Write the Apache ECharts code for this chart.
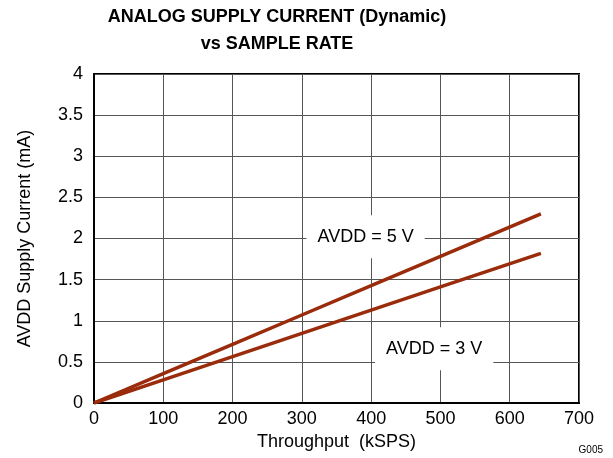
<!DOCTYPE html>
<html>
<head>
<meta charset="utf-8">
<script src="https://cdn.jsdelivr.net/npm/echarts@6/dist/echarts.min.js"></script>
<style>
  html, body { margin: 0; padding: 0; background: #fff; }
  #chart { width: 613px; height: 458px; }
</style>
</head>
<body>
<div id="chart"></div>
<script>
// Throughput (kSPS) sample points
const throughput = [0, 100, 200, 300, 400, 500, 645];
// Analog supply current (mA) at each throughput
const avdd5V = [0, 0.357, 0.713, 1.07, 1.426, 1.783, 2.3];
const avdd3V = [0, 0.282, 0.564, 0.847, 1.129, 1.411, 1.82];
// Curve labels and where they sit (data coordinates)
const labelNames = ['AVDD = 5 V', 'AVDD = 3 V'];
const labelCoords = [[392, 2.02], [491, 0.66]];
const xTicks = { min: 0, max: 700, step: 100 };
const yTicks = { min: 0, max: 4, step: 0.5 };

const FONT = '"Liberation Sans", Arial, sans-serif';
const LINE_COLOR = '#9a2c0b';

function pairs(xs, ys) { return xs.map((x, i) => [x, ys[i]]); }

function curveLabel(name, coord) {
  return {
    symbol: 'rect', symbolSize: 0,
    silent: true,
    data: [{ coord: coord, value: name }],
    label: {
      show: true, position: 'inside', formatter: name,
      color: '#000', fontFamily: FONT, fontSize: 18, lineHeight: 19,
      backgroundColor: '#fff', padding: [12, 11, 12, 11]
    }
  };
}

const chart = echarts.init(document.getElementById('chart'), null, { renderer: 'canvas' });
chart.setOption({
  animation: false,
  backgroundColor: '#fff',
  title: {
    text: 'ANALOG SUPPLY CURRENT (Dynamic)\nvs SAMPLE RATE',
    left: 272, top: -1, textAlign: 'center',
    textStyle: { fontFamily: FONT, fontSize: 18, fontWeight: 'bold', color: '#000', lineHeight: 27 }
  },
  graphic: [{
    type: 'text', right: 10, top: 445,
    style: { text: 'G005', font: '10px ' + FONT, fill: '#000' }
  }],
  grid: {
    left: 94, right: 34, top: 74, bottom: 55,
    show: true, borderColor: '#000', borderWidth: 2, backgroundColor: 'transparent'
  },
  xAxis: {
    type: 'value', min: xTicks.min, max: xTicks.max, interval: xTicks.step,
    name: 'Throughput  (kSPS)', nameLocation: 'middle', nameGap: 29,
    nameTextStyle: { fontFamily: FONT, fontSize: 18, color: '#000' },
    axisLine: { show: true, lineStyle: { color: '#000', width: 2 } },
    axisTick: { show: false },
    axisLabel: { fontFamily: FONT, fontSize: 18, color: '#000', margin: 7 },
    splitLine: { show: true, lineStyle: { color: '#555', width: 1 } }
  },
  yAxis: {
    type: 'value', min: yTicks.min, max: yTicks.max, interval: yTicks.step,
    name: 'AVDD Supply Current (mA)', nameLocation: 'middle', nameGap: 60,
    nameTextStyle: { fontFamily: FONT, fontSize: 18, color: '#000' },
    axisLine: { show: true, lineStyle: { color: '#000', width: 2 } },
    axisTick: { show: false },
    axisLabel: { fontFamily: FONT, fontSize: 18, color: '#000', margin: 11 },
    splitLine: { show: true, lineStyle: { color: '#555', width: 1 } }
  },
  series: [
    {
      name: labelNames[0], type: 'line', data: pairs(throughput, avdd5V),
      showSymbol: false, lineStyle: { color: LINE_COLOR, width: 3.5 },
      z: 3,
      markPoint: curveLabel(labelNames[0], labelCoords[0])
    },
    {
      name: labelNames[1], type: 'line', data: pairs(throughput, avdd3V),
      showSymbol: false, lineStyle: { color: LINE_COLOR, width: 3.5 },
      z: 3,
      markPoint: curveLabel(labelNames[1], labelCoords[1])
    }
  ]
});
</script>
</body>
</html>
